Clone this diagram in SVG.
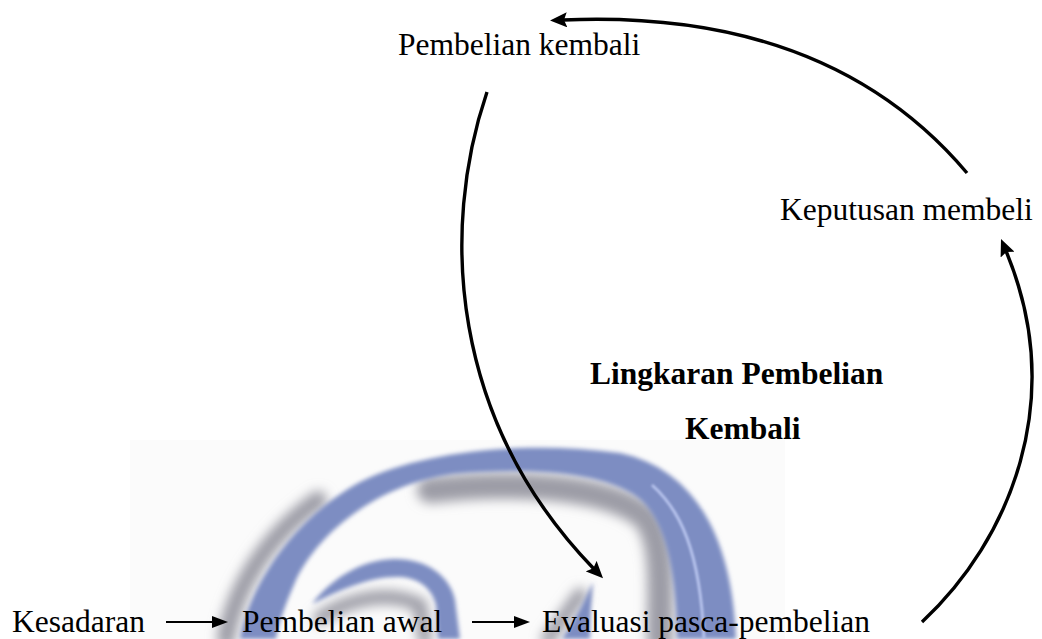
<svg xmlns="http://www.w3.org/2000/svg" width="1042" height="639" viewBox="0 0 1042 639">
  <style>
    .lbl { font-family: "Liberation Serif", "Times New Roman", serif; font-size: 31.5px; fill: #000; }
    .bold { font-weight: bold; }
    .arc { fill: none; stroke: #000; stroke-width: 3.4; stroke-linecap: butt; }
    .flow { fill: none; stroke: #000; stroke-width: 2.2; }
    .wm-blue { fill: #7d8dc2; }
    .wm-shade { fill: none; stroke: #9c9ca6; stroke-linecap: round; }
  </style>
  <defs>
    <marker id="headBig" viewBox="0 0 17 15" refX="4" refY="7.5" markerWidth="17" markerHeight="15" markerUnits="userSpaceOnUse" orient="auto">
      <path d="M0,0 L17,7.5 L0,15 L3,7.5 z" fill="#000"/>
    </marker>
    <marker id="headSmall" viewBox="0 0 16 12" refX="4" refY="6" markerWidth="16" markerHeight="12" markerUnits="userSpaceOnUse" orient="auto">
      <path d="M0,0 L16,6 L0,12 z" fill="#000"/>
    </marker>
    <filter id="softEdge" x="-10%" y="-10%" width="120%" height="120%">
      <feGaussianBlur stdDeviation="2.2"/>
    </filter>
    <filter id="shadowBlur" x="-20%" y="-20%" width="140%" height="140%">
      <feGaussianBlur stdDeviation="6"/>
    </filter>
    <filter id="glint" x="-20%" y="-20%" width="140%" height="140%">
      <feGaussianBlur stdDeviation="1.3"/>
    </filter>
  </defs>

  <rect width="1042" height="639" fill="#fff"/>

  <!-- faded swirl emblem in the background -->
  <g id="watermark">
    <rect x="130" y="440" width="655" height="199" fill="#fbfbfb"/>
    <g filter="url(#shadowBlur)">
      <path class="wm-shade" stroke-width="18" d="M226 639 C233 595 262 540 318 500"/>
      <path class="wm-shade" stroke-width="26" d="M430 490 C520 480 610 487 645 517 C665 542 660 590 660 639"/>
      <path class="wm-shade" stroke-width="14" d="M320 618 C350 598 390 590 420 605 L425 639"/>
      <path class="wm-shade" stroke-width="14" d="M580 595 L548 639"/>
    </g>
    <g filter="url(#softEdge)">
      <path class="wm-blue" d="M240 639 C248 590 290 520 360 482 C420 452 520 440 620 453 C690 468 732 530 736 639 L677 639 C676 580 668 520 637 497 C600 470 520 468 453 474 C380 484 320 530 296 580 C285 605 278 625 276 639 Z"/>
      <path class="wm-blue" d="M312 604 C330 580 360 560 393 559 C425 558 450 575 455 600 L460 639 L438 639 L436 605 C432 588 418 578 400 577 C370 576 340 590 312 604 Z"/>
      <path class="wm-blue" d="M593 582 C585 600 575 620 562 639 L590 639 C590 620 591 600 593 582 Z"/>
    </g>
    <path d="M652 485 C680 510 700 550 704 639" fill="none" stroke="#b6c2ec" stroke-width="3" filter="url(#glint)"/>
  </g>

  <!-- connectors -->
  <g id="connectors">
    <path class="arc" d="M967 173 C880 70 750 12 563 20" marker-end="url(#headBig)"/>
    <path class="arc" d="M487 92 C440 230 450 420 594 569" marker-end="url(#headBig)"/>
    <path class="arc" d="M922 622 C1010 540 1068 400 1006 251" marker-end="url(#headBig)"/>
    <path class="flow" d="M166 622 H216" marker-end="url(#headSmall)"/>
    <path class="flow" d="M472 622 H518" marker-end="url(#headSmall)"/>
  </g>

  <!-- nodes -->
  <g id="node-pembelian-kembali">
    <text class="lbl" x="398" y="55">Pembelian kembali</text>
  </g>
  <g id="node-keputusan-membeli">
    <text class="lbl" x="780" y="220">Keputusan membeli</text>
  </g>
  <g id="node-lingkaran">
    <text class="lbl bold" x="590" y="384">Lingkaran Pembelian</text>
    <text class="lbl bold" x="685" y="439">Kembali</text>
  </g>
  <g id="node-kesadaran">
    <text class="lbl" x="12" y="632">Kesadaran</text>
  </g>
  <g id="node-pembelian-awal">
    <text class="lbl" x="242" y="632">Pembelian awal</text>
  </g>
  <g id="node-evaluasi">
    <text class="lbl" x="542" y="632">Evaluasi pasca-pembelian</text>
  </g>
</svg>
